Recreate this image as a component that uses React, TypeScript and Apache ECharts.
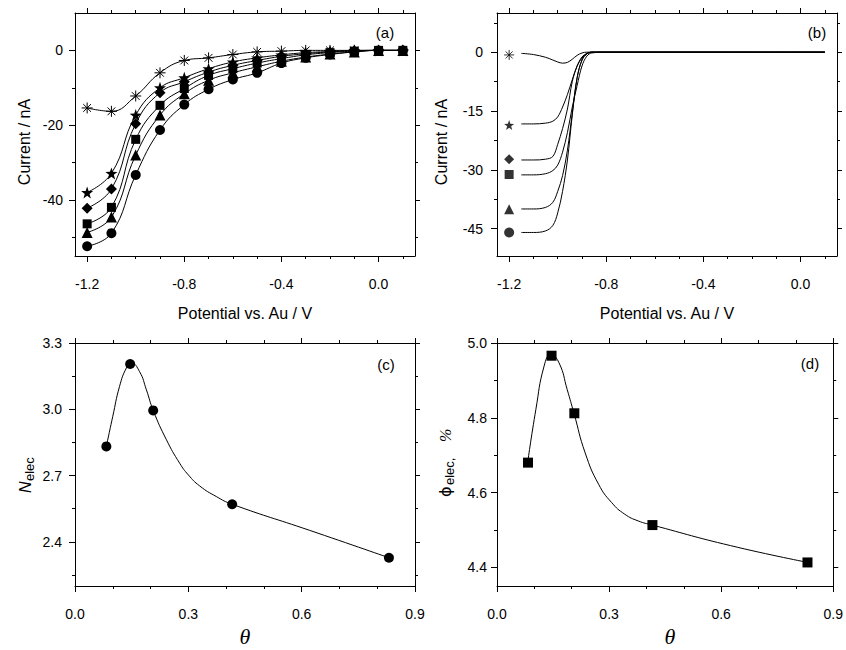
import React, { useEffect, useRef } from "react";
import * as echarts from "echarts";

const FONT = 'Arial, "Liberation Sans", sans-serif';
const SERIF = '"Liberation Serif", "DejaVu Serif", serif';

// ---------- Panel (a) ----------
const aX = [-1.2, -1.1, -1.0, -0.9, -0.8, -0.7, -0.6, -0.5, -0.4, -0.3, -0.2, -0.1, 0.0, 0.1];
const aAsterisk = [-15.4, -16.3, -12.2, -6.0, -2.7, -2.0, -1.1, -0.4, -0.2, 0, 0, 0, 0, 0];
const aStar = [-38.0, -32.9, -17.3, -10.0, -7.3, -4.9, -3.1, -2.0, -1.2, -0.6, -0.3, 0, 0, 0];
const aDiamond = [-42.2, -37.1, -19.6, -11.3, -8.4, -5.8, -4.0, -2.7, -1.6, -0.9, -0.4, -0.1, 0, 0];
const aSquare = [-46.4, -42.0, -23.8, -14.7, -10.2, -6.7, -4.9, -3.4, -2.2, -1.2, -0.6, -0.2, 0, 0];
const aTriangle = [-48.7, -44.6, -28.0, -17.3, -11.6, -8.0, -6.0, -4.4, -2.9, -1.8, -1.0, -0.4, 0, 0];
const aCircle = [-52.4, -48.9, -33.3, -21.3, -14.5, -10.4, -7.8, -6.0, -3.4, -2.0, -1.1, -0.4, 0, 0];

// ---------- Panel (b) ----------
const bX = [-1.15, -1.1, -1.05, -1.02, -1.0, -0.98, -0.96, -0.94, -0.92, -0.9, -0.88, -0.86, -0.8, 0.1];
const bAsterisk = [-0.3, -0.6, -1.3, -2.0, -2.5, -2.8, -2.6, -1.8, -0.8, -0.2, 0, 0, 0, 0];
const bStar = [-18.3, -18.3, -18.1, -17.6, -16.5, -14.0, -10.8, -7.0, -3.5, -1.2, -0.3, 0, 0, 0];
const bDiamond = [-27.5, -27.5, -27.3, -26.6, -23.5, -19.5, -14.5, -7.5, -3.5, -1.5, -0.4, 0, 0, 0];
const bSquare = [-31.3, -31.3, -31.0, -30.2, -28.8, -25.5, -20.5, -14.0, -8.5, -3.5, -1.0, -0.2, 0, 0];
const bTriangle = [-40.0, -40.0, -39.6, -38.3, -35.5, -31.5, -25.0, -15.5, -6.5, -2.0, -0.4, 0, 0, 0];
const bCircle = [-46.0, -46.0, -45.6, -44.2, -41.0, -35.5, -27.5, -16.0, -6.5, -2.0, -0.4, 0, 0, 0];
const bMarkerX = [-1.2, -1.2, -1.2, -1.2, -1.2, -1.2];
const bMarkerY = [-0.7, -18.6, -27.3, -31.2, -40.1, -46.0];

// ---------- Panels (c), (d) ----------
const theta = [0.083, 0.146, 0.207, 0.416, 0.831];
const nElec = [2.832, 3.205, 2.995, 2.57, 2.328];
const phiElec = [4.68, 4.966, 4.812, 4.513, 4.413];
// fitted curves
const cCurveX = [0.083, 0.1, 0.118, 0.136, 0.149, 0.171, 0.189, 0.207, 0.242, 0.277, 0.3, 0.33, 0.374, 0.416, 0.621, 0.831];
const cCurveY = [2.832, 2.968, 3.104, 3.187, 3.21, 3.17, 3.088, 2.995, 2.862, 2.756, 2.703, 2.653, 2.605, 2.57, 2.452, 2.328];
const dCurveX = [0.082, 0.104, 0.126, 0.144, 0.166, 0.188, 0.206, 0.236, 0.272, 0.307, 0.342, 0.378, 0.416, 0.625, 0.832];
const dCurveY = [4.68, 4.822, 4.938, 4.969, 4.947, 4.875, 4.812, 4.706, 4.622, 4.573, 4.542, 4.524, 4.513, 4.458, 4.413];

// ---------- Ticks ----------
const potMajor = [-1.2, -0.8, -0.4, 0.0];
const potMinor = [-1.2, -1.1, -1.0, -0.9, -0.8, -0.7, -0.6, -0.5, -0.4, -0.3, -0.2, -0.1, 0.0, 0.1];
const aYMajor = [-40, -20, 0];
const aYMinor = [-50, -30, -10];
const bYMajor = [-45, -30, -15, 0];
const bYMinor = [-37.5, -22.5, -7.5, 7.5];
const thetaMajor = [0.0, 0.3, 0.6, 0.9];
const thetaMinor = [0.1, 0.2, 0.4, 0.5, 0.7, 0.8];
const cYMajor = [2.4, 2.7, 3.0, 3.3];
const cYMinor = [2.25, 2.55, 2.85, 3.15];
const dYMajor = [4.4, 4.6, 4.8, 5.0];
const dYMinor = [4.5, 4.7, 4.9];

const ASTERISK = "path://M0,5L10,5M5,0L5,10M1.46,1.46L8.54,8.54M8.54,1.46L1.46,8.54";
const STAR = "path://M5,0L6.18,3.38L9.76,3.45L6.9,5.62L7.94,9.05L5,7L2.06,9.05L3.1,5.62L0.24,3.45L3.82,3.38Z";

const symbols = [ASTERISK, STAR, "diamond", "rect", "triangle", "circle"];
const aSizes = [11, 12, 11, 9, 11, 10];
const bSizes = [10, 10, 10, 9, 10, 10];

const grids = [
  { left: 75, top: 13, width: 340, height: 243 },
  { left: 497, top: 13, width: 340, height: 243 },
  { left: 75, top: 343, width: 340, height: 243 },
  { left: 497, top: 343, width: 340, height: 243 },
];

function axisSet(
  kind: "x" | "y",
  gridIndex: number,
  min: number,
  max: number,
  major: number[],
  minor: number[],
  fmt: (v: number) => string,
  margin: number
) {
  const posMain = kind === "x" ? "bottom" : "left";
  const posMirror = kind === "x" ? "top" : "right";
  const base = {
    type: "value",
    gridIndex,
    min,
    max,
    splitLine: { show: false },
    splitArea: { show: false },
    silent: true,
  };
  const mk = (position: string, ticks: number[], len: number, line: boolean, labels: boolean) => ({
    ...base,
    position,
    axisLine: { show: line, onZero: false, lineStyle: { color: "#000", width: 1 } },
    axisTick: { show: true, inside: false, length: len, customValues: ticks, lineStyle: { color: "#000", width: 1 } },
    axisLabel: labels
      ? { show: true, customValues: major, formatter: fmt, margin, color: "#000", fontSize: 14, fontFamily: FONT }
      : { show: false },
  });
  return [
    mk(posMain, major, 6, true, true),
    mk(posMain, minor, 3, false, false),
    mk(posMirror, major, 5, true, false),
    mk(posMirror, minor, 3, false, false),
  ];
}

const f1 = (v: number) => v.toFixed(1);
const f0 = (v: number) => String(Math.round(v));

const zip = (xs: number[], ys: number[]) => xs.map((x, i) => [x, ys[i]]);

function txt(text: string, x: number, y: number, size: number, extra: any = {}) {
  return {
    type: "text",
    x,
    y,
    rotation: extra.rotation || 0,
    style: {
      text,
      fill: "#000",
      fontSize: size,
      fontFamily: extra.fontFamily || FONT,
      fontStyle: extra.fontStyle || "normal",
      align: extra.align || "center",
      verticalAlign: "middle",
      textAlign: extra.align || "center",
      textVerticalAlign: "middle",
    },
  };
}

export default function App() {
  const ref = useRef<HTMLDivElement>(null);
  useEffect(() => {
    if (!ref.current) return;
    const chart = echarts.init(ref.current, null, { renderer: "svg" });

    const xAxis: any[] = [
      ...axisSet("x", 0, -1.25, 0.15, potMajor, potMinor, f1, 21),
      ...axisSet("x", 1, -1.25, 0.15, potMajor, potMinor, f1, 21),
      ...axisSet("x", 2, 0, 0.9, thetaMajor, thetaMinor, f1, 21),
      ...axisSet("x", 3, 0, 0.9, thetaMajor, thetaMinor, f1, 21),
    ];
    const yAxis: any[] = [
      ...axisSet("y", 0, -55, 10, aYMajor, aYMinor, f0, 12),
      ...axisSet("y", 1, -52, 10, bYMajor, bYMinor, f0, 14),
      ...axisSet("y", 2, 2.2, 3.3, cYMajor, cYMinor, f1, 13),
      ...axisSet("y", 3, 4.35, 5.0, dYMajor, dYMinor, f1, 10),
    ];

    const aSeriesData = [aAsterisk, aStar, aDiamond, aSquare, aTriangle, aCircle];
    const bSeriesData = [bAsterisk, bStar, bDiamond, bSquare, bTriangle, bCircle];

    const series: any[] = [];
    aSeriesData.forEach((ys, i) => {
      const isAst = i === 0;
      series.push({
        type: "line",
        xAxisIndex: 0,
        yAxisIndex: 0,
        data: zip(aX, ys),
        smooth: 0.45,
        symbol: symbols[i],
        symbolSize: aSizes[i],
        showSymbol: true,
        lineStyle: { color: "#000", width: 1 },
        itemStyle: isAst
          ? { color: "#000", borderColor: "#000", borderWidth: 1 }
          : { color: "#000", borderWidth: 0 },
        z: 3 + i,
      });
    });
    bSeriesData.forEach((ys) => {
      series.push({
        type: "line",
        xAxisIndex: 4,
        yAxisIndex: 4,
        data: zip(bX, ys),
        smooth: 0.35,
        showSymbol: false,
        symbol: "none",
        lineStyle: { color: "#000", width: 1 },
      });
    });
    series.push({
      type: "scatter",
      xAxisIndex: 4,
      yAxisIndex: 4,
      data: bMarkerY.map((y, i) => ({
        value: [bMarkerX[i], y],
        symbol: symbols[i],
        symbolSize: bSizes[i],
        itemStyle:
          i === 0
            ? { color: "#000", borderColor: "#000", borderWidth: 1 }
            : { color: "#000", borderWidth: 0 },
      })),
    });
    // (c)
    series.push({
      type: "line",
      xAxisIndex: 8,
      yAxisIndex: 8,
      data: zip(cCurveX, cCurveY),
      smooth: 0.5,
      showSymbol: false,
      symbol: "none",
      lineStyle: { color: "#000", width: 1 },
    });
    series.push({
      type: "scatter",
      xAxisIndex: 8,
      yAxisIndex: 8,
      data: zip(theta, nElec),
      symbol: "circle",
      symbolSize: 10,
      itemStyle: { color: "#000", opacity: 1 },
    });
    // (d)
    series.push({
      type: "line",
      xAxisIndex: 12,
      yAxisIndex: 12,
      data: zip(dCurveX, dCurveY),
      smooth: 0.5,
      showSymbol: false,
      symbol: "none",
      lineStyle: { color: "#000", width: 1 },
    });
    series.push({
      type: "scatter",
      xAxisIndex: 12,
      yAxisIndex: 12,
      data: zip(theta, phiElec),
      symbol: "rect",
      symbolSize: 10,
      itemStyle: { color: "#000", opacity: 1 },
    });

    const graphic: any[] = [
      txt("Current / nA", 24, 142, 16, { rotation: Math.PI / 2 }),
      txt("Current / nA", 441, 142, 16, { rotation: Math.PI / 2 }),
      txt("Potential vs. Au / V", 245, 313, 16),
      txt("Potential vs. Au / V", 667, 313, 16),
      txt("θ", 245, 636, 22, { fontFamily: SERIF, fontStyle: "italic" }),
      txt("θ", 670, 636, 22, { fontFamily: SERIF, fontStyle: "italic" }),
      txt("(a)", 385, 32, 15),
      txt("(b)", 817, 32, 15),
      txt("(c)", 386, 364, 15),
      txt("(d)", 810, 363, 15),
      {
        type: "group",
        x: 25,
        y: 493,
        rotation: Math.PI / 2,
        children: [
          txt("N", 0, 0, 16, { align: "left", fontStyle: "italic" }),
          txt("elec", 12, 4, 13, { align: "left" }),
        ],
      },
      {
        type: "group",
        x: 445,
        y: 497,
        rotation: Math.PI / 2,
        children: [
          txt("ϕ", 0, 0, 16, { align: "left", fontFamily: '"DejaVu Sans", sans-serif' }),
          txt("elec,", 12, 4, 13, { align: "left" }),
          txt("%", 55, 0, 16, { align: "left", fontFamily: SERIF, fontStyle: "italic" }),
        ],
      },
    ];

    chart.setOption({
      animation: false,
      backgroundColor: "#fff",
      grid: grids,
      xAxis,
      yAxis,
      series,
      graphic,
    });
    return () => chart.dispose();
  }, []);
  return (
    <div
      ref={ref}
      style={{ position: "fixed", left: 0, top: 0, width: 846, height: 650, background: "#fff" }}
    />
  );
}
